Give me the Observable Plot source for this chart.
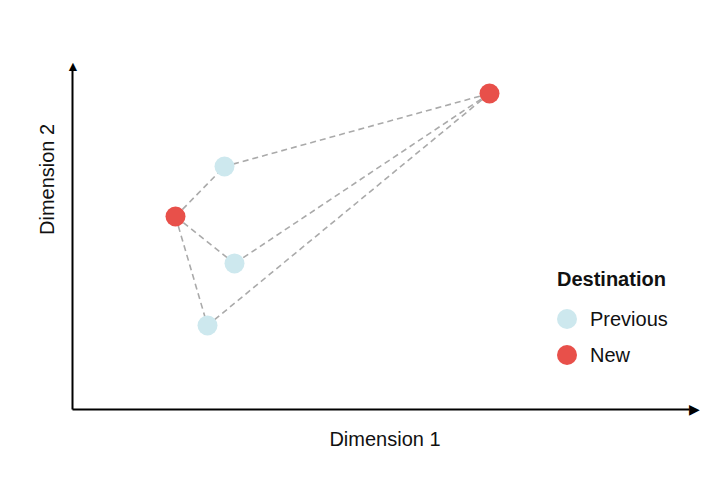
<!DOCTYPE html>
<html><head>
<script src="https://cdn.jsdelivr.net/npm/d3@7"></script>
<script src="https://cdn.jsdelivr.net/npm/@observablehq/plot@0.6"></script>
<style>
body{margin:0;background:#fff;font-family:"Liberation Sans",Arial,sans-serif;}
#wrap{position:relative;width:728px;height:482px;}
#legend{position:absolute;left:557px;top:268px;font-size:20px;color:#111;}
#legend .t{font-weight:bold;margin-bottom:10px;}
#legend .r{display:flex;align-items:center;height:36px;}
#legend .d{width:20px;height:20px;border-radius:50%;margin-right:13px;}
</style>
</head><body>
<div id="wrap"><div id="chart"></div><div id="legend"></div></div>
<script>
const names = ["N1", "N2", "P1", "P2", "P3"];
const dim1 = [103, 417, 152, 162, 135];
const dim2 = [193, 316, 243, 146, 84];
const kinds = ["New", "New", "Previous", "Previous", "Previous"];
const legendKeys = ["Previous", "New"];
const legendColors = ["#CDE8EE", "#E8504A"];

const pts = names.map((n, i) => ({name: n, x: dim1[i], y: dim2[i], kind: kinds[i]}));
const news = pts.filter(d => d.kind === "New");
const prevs = pts.filter(d => d.kind === "Previous");
const links = [];
for (const a of news) for (const b of prevs) links.push({x1: a.x, y1: a.y, x2: b.x, y2: b.y});

const X = [0, 625], Y = [0, 349];
const chart = Plot.plot({
  width: 728, height: 482,
  marginLeft: 72, marginRight: 31, marginTop: 60, marginBottom: 73,
  x: {domain: X, axis: null},
  y: {domain: Y, axis: null},
  color: {domain: legendKeys, range: legendColors},
  style: {fontFamily: "Liberation Sans, Arial, sans-serif", overflow: "visible"},
  marks: [
    Plot.link([{x1: 0, y1: 0, x2: X[1] - 8, y2: 0}, {x1: 0, y1: 0, x2: 0, y2: Y[1] - 8}],
      {x1: "x1", y1: "y1", x2: "x2", y2: "y2", stroke: "#000", strokeWidth: 2}),
    Plot.text([{x: X[1], y: 0}], {x: "x", y: "y", text: d => "▶", fontSize: 14, textAnchor: "end", dx: 2, dy: 0.5}),
    Plot.text([{x: 0, y: Y[1]}], {x: "x", y: "y", text: d => "▲", fontSize: 14, dy: 6, dx: 0.3}),
    Plot.link(links, {x1: "x1", y1: "y1", x2: "x2", y2: "y2", stroke: "#aaa", strokeWidth: 1.6, strokeDasharray: "6,4"}),
    Plot.dot(pts, {x: "x", y: "y", fill: "kind", r: 10}),
    Plot.text(["Dimension 1"], {frameAnchor: "bottom", dy: 36, fontSize: 20, fill: "#111"}),
    Plot.text(["Dimension 2"], {frameAnchor: "left", dx: -25, rotate: -90, fontSize: 20, fill: "#111"})
  ]
});
document.getElementById("chart").append(chart);
const lg = document.getElementById("legend");
lg.innerHTML = '<div class="t">Destination</div>' + legendKeys.map((k, i) =>
  `<div class="r"><span class="d" style="background:${legendColors[i]}"></span>${k}</div>`).join("");
</script>
</body></html>
